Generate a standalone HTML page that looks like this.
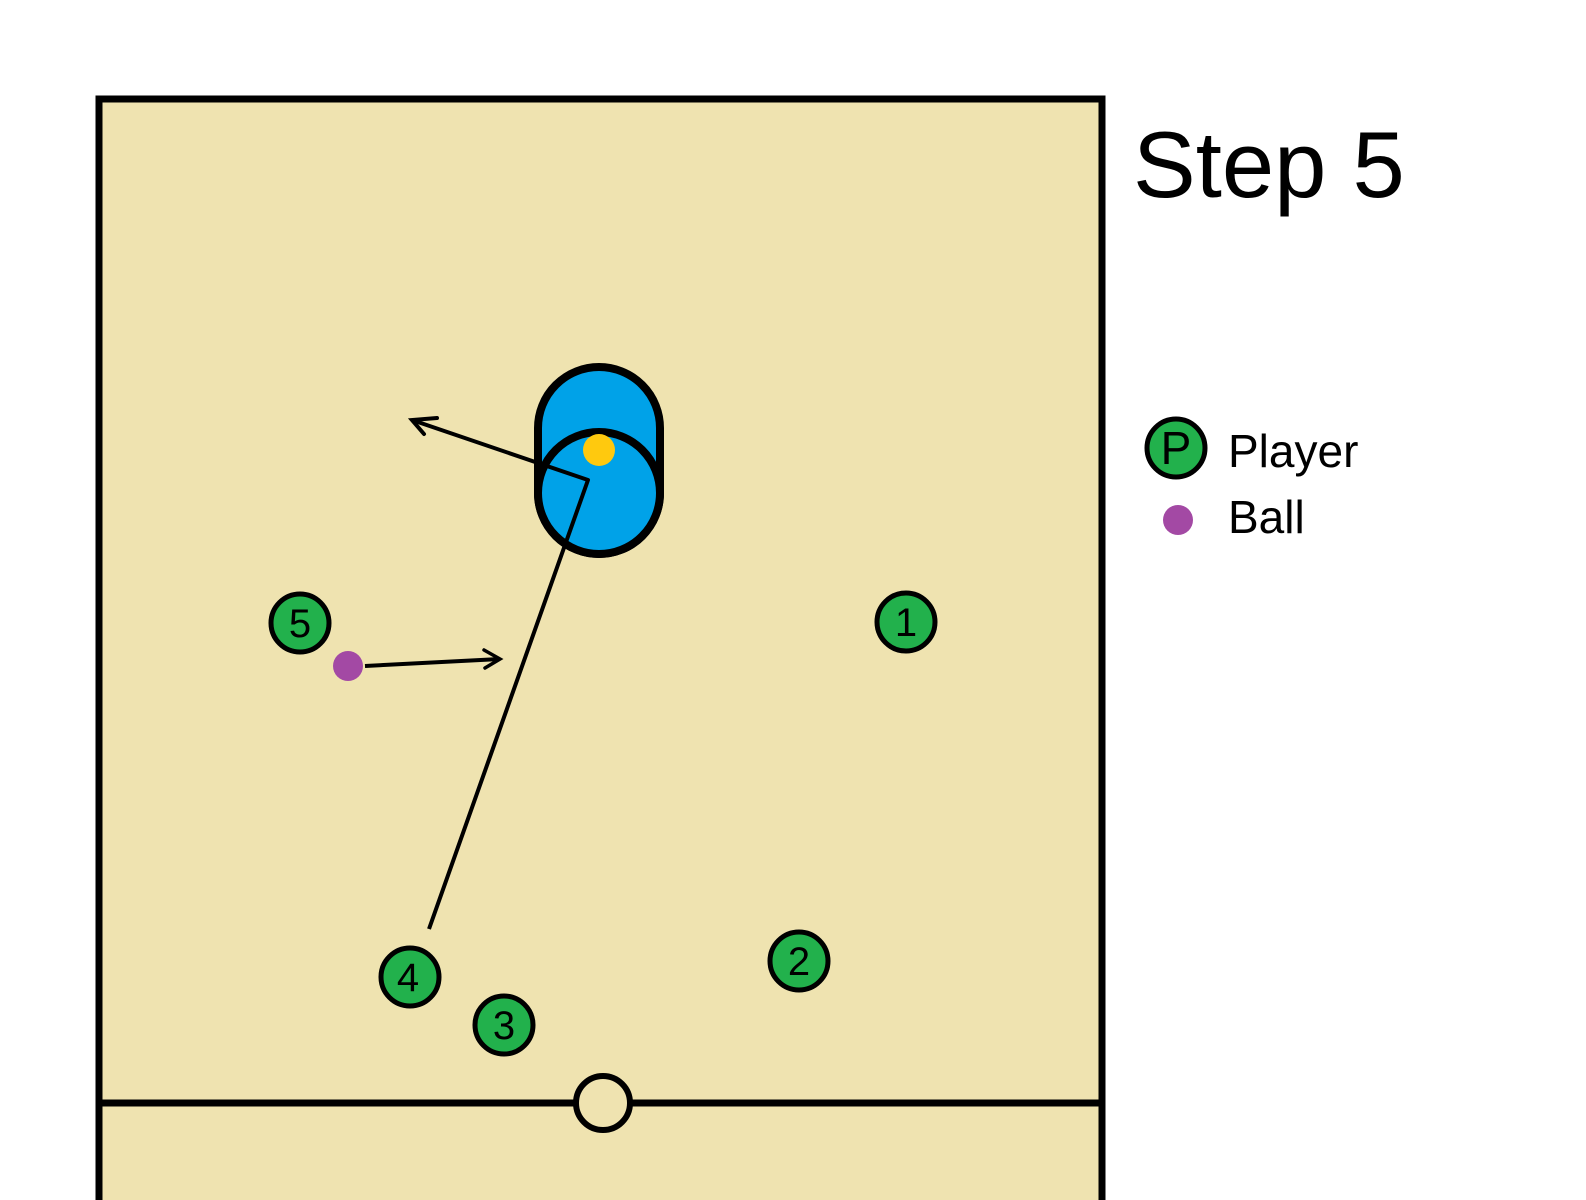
<!DOCTYPE html>
<html><head><meta charset="utf-8"><style>
html,body{margin:0;padding:0;background:#fff;}
svg{display:block;}
text{font-family:"Liberation Sans",sans-serif;}
</style></head><body>
<svg width="1586" height="1200" viewBox="0 0 1586 1200" xmlns="http://www.w3.org/2000/svg">
<rect x="0" y="0" width="1586" height="1200" fill="#fff"/>
<rect x="99" y="99" width="1003" height="1120" fill="#efe3b0" stroke="#000" stroke-width="7"/>
<line x1="99" y1="1103" x2="1102" y2="1103" stroke="#000" stroke-width="7"/>
<circle cx="603" cy="1103" r="27" fill="#efe3b0" stroke="#000" stroke-width="6"/>
<path d="M538 428 A61 61 0 0 1 660 428 L660 493 A61 61 0 0 1 538 493 Z" fill="#00a2e8" stroke="#000" stroke-width="8"/>
<circle cx="599" cy="493" r="61" fill="#00a2e8" stroke="#000" stroke-width="8"/>
<circle cx="599" cy="450" r="16" fill="#ffc90e"/>
<polyline points="429,929 588,480 412,420" fill="none" stroke="#000" stroke-width="4" stroke-linejoin="round"/>
<polyline points="437,418 412,420 424,434" fill="none" stroke="#000" stroke-width="4" stroke-linecap="round"/>
<line x1="365" y1="666" x2="500" y2="659" stroke="#000" stroke-width="4"/>
<polyline points="484,650 500,659 485,668" fill="none" stroke="#000" stroke-width="3.5" stroke-linecap="round"/>
<circle cx="348" cy="666" r="15" fill="#a349a4"/>
<g fill="#22b14c" stroke="#000" stroke-width="5">
<circle cx="300" cy="623" r="29"/>
<circle cx="906" cy="622" r="29"/>
<circle cx="799" cy="961" r="29"/>
<circle cx="410" cy="977" r="29"/>
<circle cx="504" cy="1025" r="29"/>
<circle cx="1176" cy="448" r="29"/>
</g>
<g font-size="40" text-anchor="middle" fill="#000">
<text x="300" y="637">5</text>
<text x="906" y="636">1</text>
<text x="799" y="975">2</text>
<text x="408" y="991">4</text>
<text x="504" y="1039">3</text>
<text x="1176" y="464" font-size="46">P</text>
</g>
<text x="1133" y="197" font-size="94" fill="#000">Step 5</text>
<text x="1228" y="467" font-size="46" fill="#000">Player</text>
<circle cx="1178" cy="520" r="15" fill="#a349a4"/>
<text x="1228" y="533" font-size="46" fill="#000">Ball</text>
</svg>
</body></html>
